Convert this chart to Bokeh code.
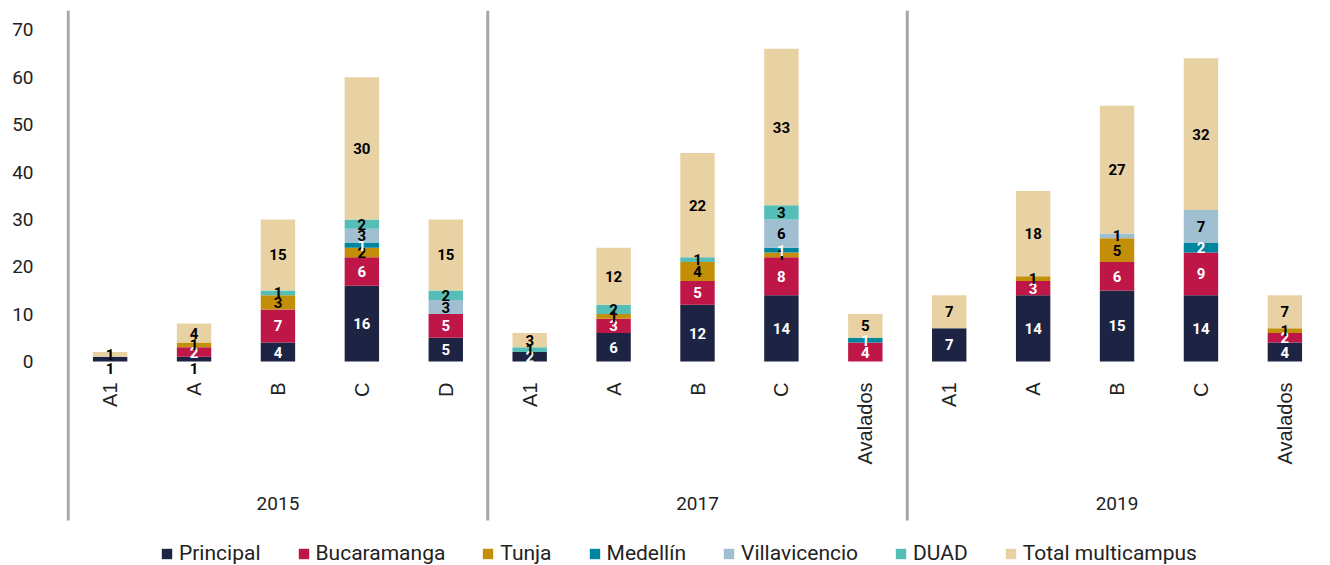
import math
from bokeh.plotting import figure
from bokeh.models import FactorRange, ColumnDataSource, FixedTicker, Legend, LegendItem
from bokeh.core.properties import value
from bokeh.embed import file_html
from bokeh.resources import INLINE

years = ["2015", "2017", "2019"]
cats_2015 = ["A1", "A", "B", "C", "D"]
cats_2017 = ["A1", "A", "B", "C", "Avalados"]
cats_2019 = ["A1", "A", "B", "C", "Avalados"]

series_names = ["Principal", "Bucaramanga", "Tunja", "Medellín", "Villavicencio", "DUAD", "Total multicampus"]
series_keys = ["principal", "bucaramanga", "tunja", "medellin", "villavicencio", "duad", "total"]

principal     = [1, 1, 4, 16, 5,   2, 6, 12, 14, 0,   7, 14, 15, 14, 4]
bucaramanga   = [0, 2, 7, 6, 5,    0, 3, 5, 8, 4,     0, 3, 6, 9, 2]
tunja         = [0, 1, 3, 2, 0,    0, 1, 4, 1, 0,     0, 1, 5, 0, 1]
medellin      = [0, 0, 0, 1, 0,    0, 0, 0, 1, 1,     0, 0, 0, 2, 0]
villavicencio = [0, 0, 0, 3, 3,    0, 0, 0, 6, 0,     0, 0, 1, 7, 0]
duad          = [0, 0, 1, 2, 2,    1, 2, 1, 3, 0,     0, 0, 0, 0, 0]
total_multi   = [1, 4, 15, 30, 15, 3, 12, 22, 33, 5,  7, 18, 27, 32, 7]

y_ticks = [0, 10, 20, 30, 40, 50, 60, 70]

colors = ["#1d2342", "#be1646", "#c48f08", "#00859f", "#a0bfd0", "#55beb6", "#e8d1a3"]
label_colors = ["white", "white", "black", "white", "black", "black", "black"]
# Principal labels drawn under the bar for these tiny bars
below_label = {("2015", "A1"), ("2015", "A")}

# layout (data units of the value axis): top of frame, bottom of frame, end of separators
Y_TOP, Y_BOTTOM, SEP_END = 74.1, -43.07, -33.57

groups = {"2015": cats_2015, "2017": cats_2017, "2019": cats_2019}
factors = [(y, c) for y in years for c in groups[y]]
values = [principal, bucaramanga, tunja, medellin, villavicencio, duad, total_multi]

data = {"x": factors}
for k, v in zip(series_keys, values):
    data[k] = v
src = ColumnDataSource(data)

p = figure(
    x_range=FactorRange(*factors, factor_padding=0, group_padding=0,
                        range_padding=0.02, range_padding_units="absolute"),
    y_range=(Y_BOTTOM, Y_TOP),
    width=1330, height=565,
    output_backend="svg", toolbar_location=None,
    min_border_left=66, min_border_right=2, min_border_top=10, min_border_bottom=0,
)
p.outline_line_color = None
p.xgrid.grid_line_color = None
p.ygrid.grid_line_color = None
p.xaxis.visible = False

rs = p.vbar_stack(series_keys, x="x", width=0.41, color=colors, source=src, line_color=None)

# value labels
lx, ly, lt, lc = [], [], [], []
bx, bt = [], []
for i, f in enumerate(factors):
    bottom = 0
    for s, v in enumerate(values):
        val = v[i]
        if val > 0:
            if s == 0 and f in below_label:
                bx.append(f)
                bt.append(str(val))
            else:
                lx.append(f)
                ly.append(bottom + val / 2)
                lt.append(str(val))
                lc.append(label_colors[s])
        bottom += val

p.text(x="x", y="y", text="t", source=ColumnDataSource(dict(x=lx, y=ly, t=lt, c=lc)),
       text_color="c", text_align="center", text_baseline="middle",
       text_font=value("Roboto"), text_font_style="bold", text_font_size="15px")
p.text(x="x", y="y", text="t", source=ColumnDataSource(dict(x=bx, y=[0] * len(bx), t=bt)),
       text_color="black", text_align="center", text_baseline="top", y_offset=2,
       text_font=value("Roboto"), text_font_style="bold", text_font_size="15px")

# category labels (rotated, hanging below the zero line)
cat_labels = [c for (_, c) in factors]
p.text(x="x", y="y", text="t", source=ColumnDataSource(dict(x=factors, y=[0] * len(factors), t=cat_labels)),
       text_color="#222222", text_align="right", text_baseline="middle", angle=math.pi / 2,
       y_offset=21, text_font=value("Liberation Sans"), text_font_size="20px")

# year (group) labels
p.text(x="x", y="y", text="t", source=ColumnDataSource(dict(x=years, y=[0] * len(years), t=years)),
       text_color="#222222", text_align="center", text_baseline="middle", y_offset=142,
       text_font=value("Roboto"), text_font_size="19px")

# group separators (left edge and between years)
bounds = [0]
for y in years[:-1]:
    bounds.append(bounds[-1] + len(groups[y]))
p.segment(x0=bounds, x1=bounds, y0=[Y_TOP] * len(bounds), y1=[SEP_END] * len(bounds),
          line_color="#a6a6a6", line_width=3)

# y axis
p.yaxis.ticker = FixedTicker(ticks=y_ticks)
p.yaxis.major_tick_line_color = None
p.yaxis.minor_tick_line_color = None
p.yaxis.major_tick_out = 0
p.yaxis.axis_line_color = None
p.yaxis.major_label_standoff = 33
p.yaxis.major_label_text_font = "Roboto"
p.yaxis.major_label_text_font_size = "19px"
p.yaxis.major_label_text_color = "#222222"

legend = Legend(
    items=[LegendItem(label=n, renderers=[r]) for n, r in zip(series_names, rs)],
    orientation="horizontal", location=(94, 0),
    glyph_width=13, glyph_height=13, label_standoff=6, spacing=36,
    label_text_font="Roboto", label_text_font_size="21px", label_text_color="#222222",
    border_line_color=None, background_fill_alpha=0, padding=0, margin=0,
)
p.add_layout(legend, "center")

open("out.html", "w").write(file_html(p, INLINE))
